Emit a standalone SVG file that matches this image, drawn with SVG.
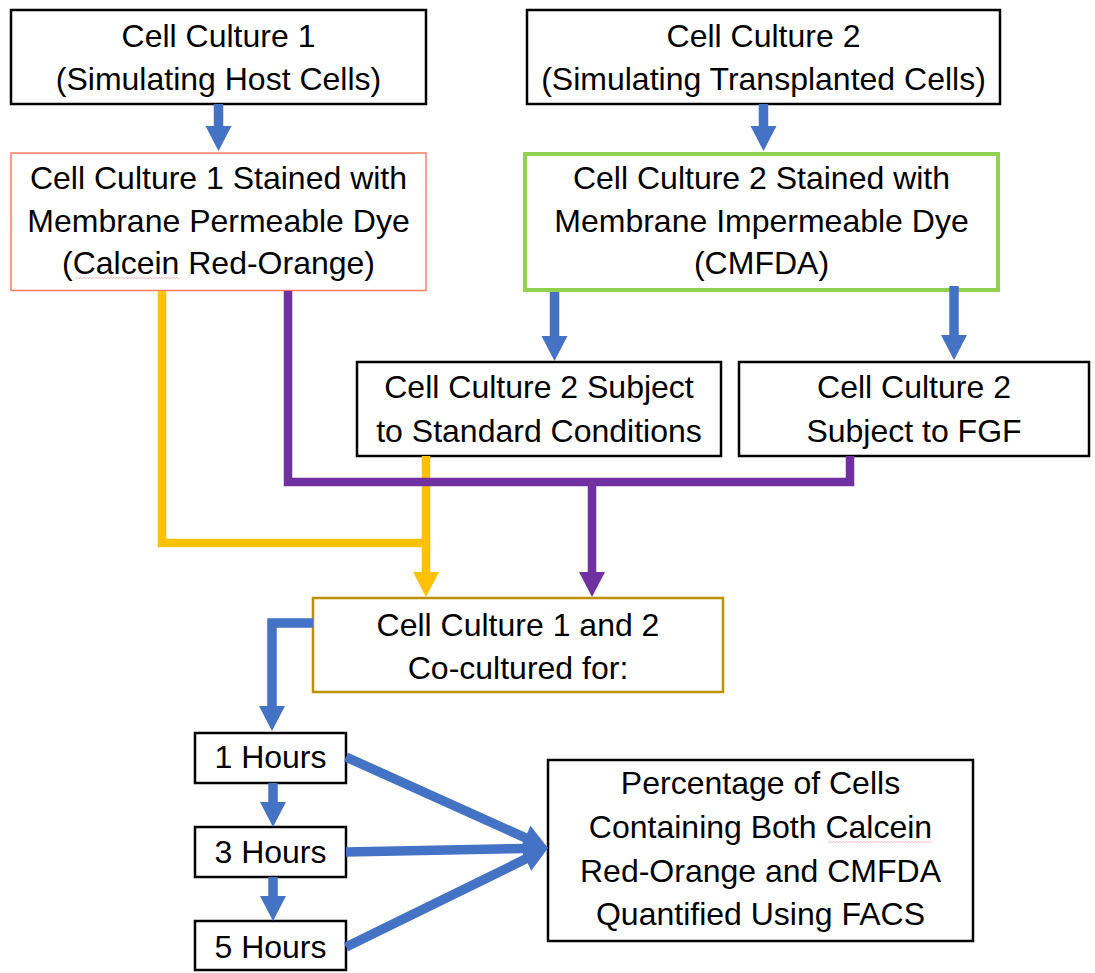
<svg xmlns="http://www.w3.org/2000/svg" width="1095" height="973" viewBox="0 0 1095 973">
<style>
  text { font-family: "Liberation Sans", Arial, sans-serif; font-size: 32px; fill: #000; text-anchor: middle; }
  .box { fill: #fff; stroke: #000; stroke-width: 2.5; }
  .coral { fill: #fff; stroke: #FF7C5F; stroke-width: 1.5; }
  .green { fill: #fff; stroke: #92D050; stroke-width: 4; }
  .gold { fill: #fff; stroke: #BF9000; stroke-width: 2.5; }
  .blue { fill: none; stroke: #4472C4; stroke-width: 9.5; }
  .orange { fill: none; stroke: #FFC000; stroke-width: 8.5; }
  .purple { fill: none; stroke: #7030A0; stroke-width: 8.5; }
  .squig { fill: url(#sq); }
</style>
<defs>
  <marker id="hb" markerUnits="userSpaceOnUse" markerWidth="26" markerHeight="26" viewBox="0 0 25 26" refX="0" refY="13" orient="auto" overflow="visible">
    <path d="M-1,0 L24,13 L-1,26 z" fill="#4472C4"/>
  </marker>
  <marker id="ho" markerUnits="userSpaceOnUse" markerWidth="26" markerHeight="26" viewBox="0 0 25 26" refX="0" refY="13" orient="auto" overflow="visible">
    <path d="M-1,0 L24,13 L-1,26 z" fill="#FFC000"/>
  </marker>
  <marker id="hp" markerUnits="userSpaceOnUse" markerWidth="26" markerHeight="26" viewBox="0 0 25 26" refX="0" refY="13" orient="auto" overflow="visible">
    <path d="M-1,0 L24,13 L-1,26 z" fill="#7030A0"/>
  </marker>
  <pattern id="sq" patternUnits="userSpaceOnUse" width="3" height="2">
    <path d="M0,1.5 L1.5,0.5 L3,1.5" fill="none" stroke="#FF5050" stroke-width="0.5" opacity="0.8"/>
  </pattern>
</defs>

<g id="n1">
  <rect class="box" x="11" y="10" width="415" height="94"/>
  <text x="218.5" y="47">Cell Culture 1</text>
  <text x="218.5" y="90">(Simulating Host Cells)</text>
</g>
<g id="n2">
  <rect class="box" x="527" y="10" width="473" height="94"/>
  <text x="763.5" y="47">Cell Culture 2</text>
  <text x="763.5" y="90">(Simulating Transplanted Cells)</text>
</g>
<g id="n3">
  <rect class="coral" x="11" y="153" width="415" height="137.5"/>
  <text x="218.5" y="189">Cell Culture 1 Stained with</text>
  <text x="218.5" y="232">Membrane Permeable Dye</text>
  <text x="218.5" y="274">(Calcein Red-Orange)</text>
  <rect class="squig" x="75" y="277" width="105" height="2"/>
</g>
<g id="n4">
  <rect class="green" x="525" y="154" width="473" height="136"/>
  <text x="761.5" y="189">Cell Culture 2 Stained with</text>
  <text x="761.5" y="232">Membrane Impermeable Dye</text>
  <text x="761.5" y="274">(CMFDA)</text>
</g>
<g id="n5">
  <rect class="box" x="357" y="362" width="364" height="94"/>
  <text x="539" y="398">Cell Culture 2 Subject</text>
  <text x="539" y="442">to Standard Conditions</text>
</g>
<g id="n6">
  <rect class="box" x="739" y="362" width="350" height="94"/>
  <text x="914" y="398">Cell Culture 2</text>
  <text x="914" y="442">Subject to FGF</text>
</g>
<g id="n7">
  <rect class="gold" x="313" y="598" width="410" height="94"/>
  <text x="518" y="636">Cell Culture 1 and 2</text>
  <text x="518" y="679">Co-cultured for:</text>
</g>
<g id="n8">
  <rect class="box" x="195" y="733" width="151" height="50"/>
  <text x="270.5" y="768">1 Hours</text>
</g>
<g id="n9">
  <rect class="box" x="195" y="827" width="151" height="50"/>
  <text x="270.5" y="863">3 Hours</text>
</g>
<g id="n10">
  <rect class="box" x="195" y="921" width="151" height="49"/>
  <text x="270.5" y="958">5 Hours</text>
</g>
<g id="n11">
  <rect class="box" x="548" y="760" width="425" height="181"/>
  <text x="760.5" y="794">Percentage of Cells</text>
  <text x="760.5" y="838">Containing Both Calcein</text>
  <text x="760.5" y="882">Red-Orange and CMFDA</text>
  <text x="760.5" y="925">Quantified Using FACS</text>
  <rect class="squig" x="828" y="841" width="104" height="2"/>
</g>

<g id="connectors">
  <path class="blue" d="M218.5,104 L218.5,127" marker-end="url(#hb)"/>
  <path class="blue" d="M763.5,104 L763.5,127" marker-end="url(#hb)"/>
  <path class="blue" d="M554.5,292 L554.5,337" marker-end="url(#hb)"/>
  <path class="blue" d="M954,286 L954,336" marker-end="url(#hb)"/>
  <path class="orange" d="M162,291 L162,543 L426,543"/>
  <path class="orange" d="M426,456 L426,573" marker-end="url(#ho)"/>
  <path class="purple" d="M288,291 L288,482 L850,482 L850,456"/>
  <path class="purple" d="M592,482 L592,573" marker-end="url(#hp)"/>
  <path class="blue" d="M313,623 L272,623 L272,707" marker-end="url(#hb)"/>
  <path class="blue" d="M273,783 L273,803" marker-end="url(#hb)"/>
  <path class="blue" d="M273,877 L273,897" marker-end="url(#hb)"/>
  <path class="blue" d="M346,757 L526.1,838.1" marker-end="url(#hb)"/>
  <path class="blue" d="M346,852 L524,848.5" marker-end="url(#hb)"/>
  <path class="blue" d="M346,947 L526.5,858.6" marker-end="url(#hb)"/>
</g>
</svg>
